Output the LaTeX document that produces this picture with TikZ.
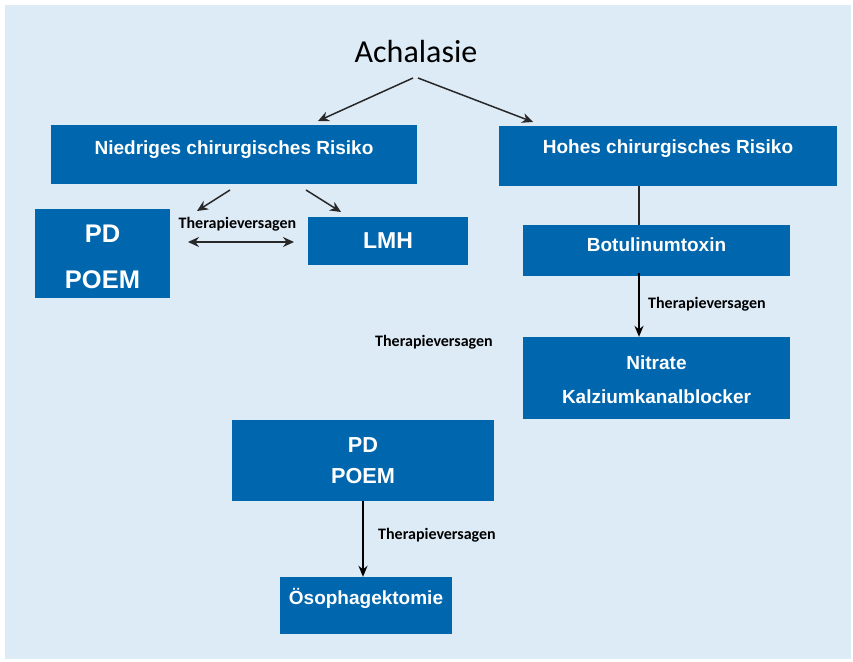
\documentclass[tikz,border=0pt]{standalone}
\usepackage{fontspec}
\setmainfont{Liberation Sans}
\newfontfamily\calfont{Carlito}
\usetikzlibrary{arrows.meta}
\definecolor{bgblue}{RGB}{221,235,247}
\definecolor{boxblue}{RGB}{0,102,173}
\definecolor{arrgray}{RGB}{40,40,40}
\begin{document}
\begin{tikzpicture}[x=1pt,y=-1pt,
  box/.style={fill=boxblue, draw=none, inner sep=0pt, text=white, align=center,
    font=\fontsize{19}{23}\selectfont\bfseries},
  boxtext/.style={inner sep=0pt, text=white, align=center},
  lbl/.style={font=\calfont\bfseries\fontsize{16}{18}\selectfont, text=black, inner sep=0pt},
  arr/.style={draw=arrgray, line width=1.5pt, -{Stealth[length=11pt,width=10pt]}},
  darr/.style={draw=arrgray, line width=1.5pt, {Stealth[length=11pt,width=10pt]}-{Stealth[length=11pt,width=10pt]}},
  varr/.style={draw=black, line width=1.8pt, -{Stealth[length=11pt,width=9pt]}},
  vline/.style={draw=arrgray, line width=1.8pt}]
\useasboundingbox (0,0) rectangle (853,661);
\fill[bgblue] (5,5) rectangle (851,659);

\node[font=\calfont\fontsize{32}{36}\selectfont, inner sep=0pt] (ach) at (416,52) {Achalasie};

\node[box, minimum width=366pt, minimum height=59pt] (nied) at (234,154.5) {\raisebox{14pt}{Niedriges chirurgisches Risiko}};
\node[box, minimum width=338pt, minimum height=60pt] (hohes) at (668,156) {\raisebox{18pt}{Hohes chirurgisches Risiko}};
\node[box, minimum width=135pt, minimum height=89pt] (pdA) at (102.5,253.5) {};
\node[boxtext, font=\fontsize{25.5}{46}\selectfont\bfseries] (pdAt) at (102.5,256.5) {PD\\POEM};
\node[box, minimum width=160pt, minimum height=48pt, font=\fontsize{23}{26}\selectfont\bfseries] (lmh) at (388,241) {LMH};
\node[box, minimum width=267pt, minimum height=51pt] (botu) at (656.5,250.5) {\raisebox{11.5pt}{Botulinumtoxin}};
\node[box, minimum width=267pt, minimum height=82pt] (nitr) at (656.5,378) {};
\node[boxtext, font=\fontsize{19}{34}\selectfont\bfseries] (nitrt) at (656.5,380) {Nitrate\\Kalziumkanalblocker};
\node[box, minimum width=262pt, minimum height=81pt, font=\fontsize{21.7}{31}\selectfont\bfseries] (pdB) at (363,460.5) {PD\\POEM};
\node[box, minimum width=172pt, minimum height=57pt] (oeso) at (366,605.5) {\raisebox{19pt}{Ösophagektomie}};

\node[lbl] (l1) at (237.5,224) {Therapieversagen};
\node[lbl, anchor=west] (l2) at (648,304) {Therapieversagen};
\node[lbl] (l3) at (434,342) {Therapieversagen};
\node[lbl, anchor=west] (l4) at (378,535) {Therapieversagen};

% top arrows
\coordinate (a1s) at (413,78);
\coordinate (a1e) at (318,121);
\coordinate (a2s) at (418,78);
\coordinate (a2e) at (533,122);
\draw[arr] (a1s) -- (a1e);
\draw[arr] (a2s) -- (a2e);

% left small arrows
\coordinate (b1s) at (230,190);
\coordinate (b1e) at (197,211);
\coordinate (b2s) at (306,190);
\coordinate (b2e) at (341,212);
\draw[arr] (b1s) -- (b1e);
\draw[arr] (b2s) -- (b2e);

% double arrow
\coordinate (dl) at (188,242);
\coordinate (dr) at (294,242);
\draw[darr] (dl) -- (dr);

% right column
\draw[vline] (hohes.south -| 639,0) -- (botu.north -| 639,0);
\draw[varr] ([yshift=3pt]botu.south -| 639,0) -- (nitr.north -| 639,0);

% bottom
\draw[varr] (pdB.south -| 363,0) -- (oeso.north -| 363,0);
\end{tikzpicture}
\end{document}
